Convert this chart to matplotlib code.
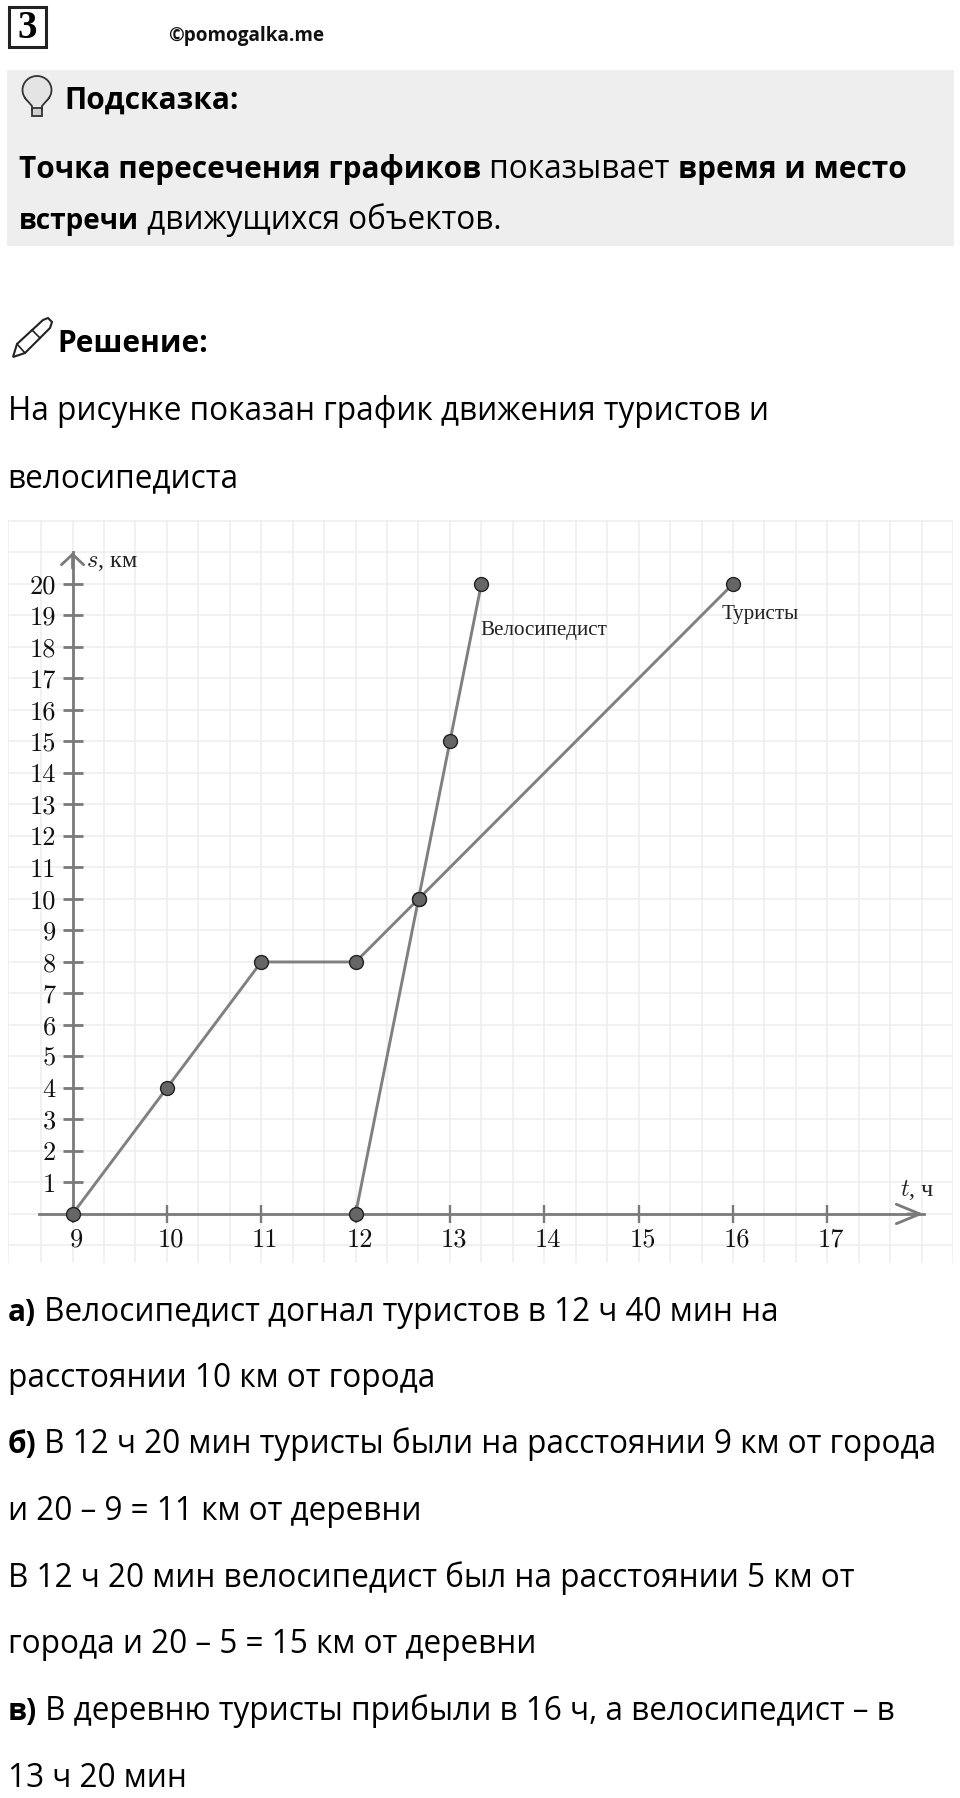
import matplotlib
matplotlib.use("Agg")
import matplotlib.pyplot as plt
from matplotlib.patches import Rectangle, Ellipse, Polygon
from matplotlib.lines import Line2D
from matplotlib.transforms import ScaledTranslation

plt.rcParams["mathtext.fontset"] = "cm"

W, H = 960, 1799
TEXT_FONT = "Open Sans"
REG_SIZE = 22.7
BOLD_SIZE = 21.4

# --- chart data
tour_t = [9, 10, 11, 12, 12.667, 16]
tour_s = [0, 4, 8, 8, 10, 20]
cyc_t = [12, 12.667, 13, 13.333]
cyc_s = [0, 10, 15, 20]
x_ticks = [9, 10, 11, 12, 13, 14, 15, 16, 17]
y_ticks = list(range(1, 21))

# --- page text: (baseline y, [(text, bold), ...])
hint_line_1 = (178, [("Точка пересечения графиков", True), (" показывает ", False), ("время и место", True)])
hint_line_2 = (229, [("встречи", True), (" движущихся объектов.", False)])
body_lines = [
    (420, [("На рисунке показан график движения туристов и", False)]),
    (487, [("велосипедиста", False)]),
    (1321, [("а)", True), (" Велосипедист догнал туристов в 12 ч 40 мин на", False)]),
    (1387, [("расстоянии 10 км от города", False)]),
    (1453, [("б)", True), (" В 12 ч 20 мин туристы были на расстоянии 9 км от города", False)]),
    (1520, [("и 20 – 9 = 11 км от деревни", False)]),
    (1587, [("В 12 ч 20 мин велосипедист был на расстоянии 5 км от", False)]),
    (1653, [("города и 20 – 5 = 15 км от деревни", False)]),
    (1720, [("в)", True), (" В деревню туристы прибыли в 16 ч, а велосипедист – в", False)]),
    (1787, [("13 ч 20 мин", False)]),
]

fig = plt.figure(figsize=(W / 100, H / 100), dpi=100, facecolor="white")
px = fig.add_axes([0, 0, 1, 1], zorder=0)
px.set_xlim(0, W)
px.set_ylim(H, 0)
px.axis("off")
renderer = fig.canvas.get_renderer()


def put_runs(x, y, runs, bold_size=BOLD_SIZE, reg_size=REG_SIZE):
    for text, bold in runs:
        size = bold_size if bold else reg_size
        weight = "bold" if bold else "normal"
        px.text(x, y, text, fontsize=size, family=TEXT_FONT, color="black",
                fontweight=weight, va="baseline", ha="left")
        probe = px.text(0, 0, "|" + text + "|", fontsize=size, family=TEXT_FONT, fontweight=weight)
        bar = px.text(0, 0, "||", fontsize=size, family=TEXT_FONT, fontweight=weight)
        x += probe.get_window_extent(renderer).width - bar.get_window_extent(renderer).width
        probe.remove()
        bar.remove()


# header
px.add_patch(Rectangle((9, 8), 37, 40, fc="white", ec="#222222", lw=2.2))
px.text(27, 28, "3", fontsize=28, family="Liberation Serif", fontweight="bold", ha="center",
        va="center", color="black")
px.text(168, 36, "©pomogalka.me", fontsize=13.7, family=TEXT_FONT, fontweight="bold", ha="left",
        va="center", color="#111111")

# hint box
px.add_patch(Rectangle((7, 71), 947, 176, fc="#eeeeee", ec="none"))
px.add_patch(Ellipse((37, 91), 29, 28, fc="#e4e4e4", ec="#333333", lw=1.3))
px.add_patch(Polygon([(25, 99), (32, 107), (32, 111), (42, 111), (42, 107), (49, 99)],
                     closed=True, fc="#e4e4e4", ec="none"))
px.add_line(Line2D([25, 32, 32], [99, 107, 111], color="#333333", lw=1.3))
px.add_line(Line2D([49, 42, 42], [99, 107, 111], color="#333333", lw=1.3))
px.add_patch(Rectangle((32, 109), 10, 8, fc="#cfcfcf", ec="#333333", lw=1.3))
put_runs(64, 109, [("Подсказка:", True)], bold_size=21.5)
put_runs(19, hint_line_1[0], hint_line_1[1])
put_runs(19, hint_line_2[0], hint_line_2[1], bold_size=20.2)

# solution heading with pencil
px.add_patch(Polygon([(13, 358), (17, 345), (43, 321), (48, 319), (52, 323), (50, 329), (25, 354)],
                     closed=True, fc="white", ec="#222222", lw=1.5))
px.add_line(Line2D([17, 25], [345, 354], color="#222222", lw=1.2))
px.add_line(Line2D([32, 40], [331, 339], color="#222222", lw=1.2))
put_runs(57, 352, [("Решение:", True)], bold_size=21.5)
for y, runs in body_lines:
    put_runs(7.5, y, runs)

# --- chart: pixel box 8..953 x 521..1264
ax = fig.add_axes([8 / W, 1 - 1264 / H, 945 / W, 743 / H], zorder=1)
ax.patch.set_alpha(0)
XMIN, XMAX, YMIN, YMAX = 8.316, 18.332, -1.556, 22.03
ax.set_xlim(XMIN, XMAX)
ax.set_ylim(YMIN, YMAX)
AX = "#7a7a7a"
GRID = "#eeeeee"
for side in ("top", "right"):
    ax.spines[side].set_visible(False)
ax.spines["left"].set_position(("data", 9))
ax.spines["bottom"].set_position(("data", 0))
ax.spines["left"].set_bounds(0, 21)
ax.spines["bottom"].set_bounds(8.64, 18.02)
for side in ("left", "bottom"):
    ax.spines[side].set_color(AX)
    ax.spines[side].set_linewidth(2.0)
    ax.spines[side].set_zorder(2)

grid_x = [8.32] + [9 + k / 3 for k in range(-1, 29)]
grid_y = list(range(-1, 23))
ax.vlines(grid_x, YMIN, YMAX, color=GRID, lw=1.1, zorder=0)
ax.hlines(grid_y, XMIN, XMAX, color=GRID, lw=1.1, zorder=0)
ax.set_xticks(x_ticks, [str(v) for v in x_ticks])
ax.set_yticks(y_ticks, [str(v) for v in y_ticks])
ax.tick_params(axis="y", direction="inout", length=15, width=2.0, color=AX,
               pad=4.5, labelsize=19, labelcolor="#111111")
ax.tick_params(axis="x", direction="inout", length=13, width=1.7, color=AX,
               pad=3, labelsize=19, labelcolor="#111111")
shift_x = ScaledTranslation(4 / 100, 0, fig.dpi_scale_trans)
shift_y = ScaledTranslation(0, 1 / 100, fig.dpi_scale_trans)
for lab in ax.get_xticklabels():
    lab.set_fontfamily("cmr10")
    lab.set_transform(lab.get_transform() + shift_x)
for lab in ax.get_yticklabels():
    lab.set_fontfamily("cmr10")
    lab.set_transform(lab.get_transform() + shift_y)

ax.annotate("", xy=(18.02, 0), xytext=(17.85, 0),
            arrowprops=dict(arrowstyle="->,head_length=17,head_width=7", mutation_scale=1,
                            color=AX, lw=2.0, shrinkA=0, shrinkB=0))
ax.annotate("", xy=(9, 21.0), xytext=(9, 20.5),
            arrowprops=dict(arrowstyle="->,head_length=7.5,head_width=8", mutation_scale=1,
                            color=AX, lw=2.0, shrinkA=0, shrinkB=0))

LINE = "#808080"
MARK = dict(marker="o", ms=10, mfc="#666666", mec="#222222", mew=1.0)
ax.plot(tour_t, tour_s, color=LINE, lw=2.1, zorder=3, **MARK)
ax.plot(cyc_t, cyc_s, color=LINE, lw=2.1, zorder=3, **MARK)

LABEL = dict(family="Liberation Serif", fontsize=15.2, color="#222222", va="center", ha="left")
ax.annotate("Велосипедист", xy=(13.333, 20), xytext=(-0.5, -32.5), textcoords="offset points", **LABEL)
ax.annotate("Туристы", xy=(16, 20), xytext=(-8.5, -21), textcoords="offset points", **LABEL)
ax.text(9.14, 20.72, "$s$, км", family="Liberation Serif", fontsize=17.5, color="#222222",
        va="center", ha="left")
ax.text(17.77, 0.8, "$t$, ч", family="Liberation Serif", fontsize=17.5, color="#222222",
        va="center", ha="left")

fig.savefig("out.png", dpi=100, facecolor="white")
